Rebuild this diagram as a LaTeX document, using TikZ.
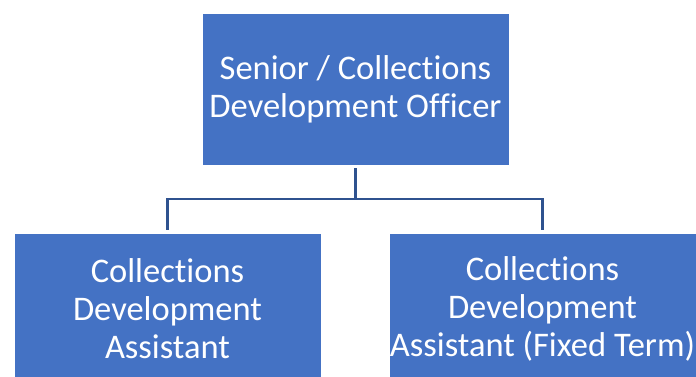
\documentclass[tikz,border=0pt]{standalone}
\usepackage{fontspec}
\setmainfont{Carlito}[Ligatures={NoCommon,NoRare,NoDiscretionary}]
\usetikzlibrary{calc}
\definecolor{boxblue}{HTML}{4472C4}
\definecolor{linkblue}{HTML}{2F528F}
\begin{document}
\begin{tikzpicture}[x=1pt,y=-1pt,
  role/.style={fill=boxblue,draw=white,line width=0.6pt,minimum width=307pt,minimum height=152pt,
    inner sep=0pt,text=white,align=center,
    font=\fontsize{34.5}{38}\selectfont},
  link/.style={draw=linkblue,line width=2.2pt}]
\useasboundingbox (0,0) rectangle (696,376);
\node[role] (top) at (355.5,89) {Senior / Collections\\Development Officer};
\node[role] (left) at (167.5,309) {Collections\\Development\\Assistant};
\node[role] (right) at (542.5,309) {Collections\\Development\\Assistant (Fixed Term)};
% reporting lines
\draw[link] ($(top.south)+(0,3)$) -- ($(top.south)+(0,35)$);
\draw[link] ($(left.north)+(0,-3)$) -- ++(0,-31) -| ($(right.north)+(0,-3)$);
\end{tikzpicture}
\end{document}
